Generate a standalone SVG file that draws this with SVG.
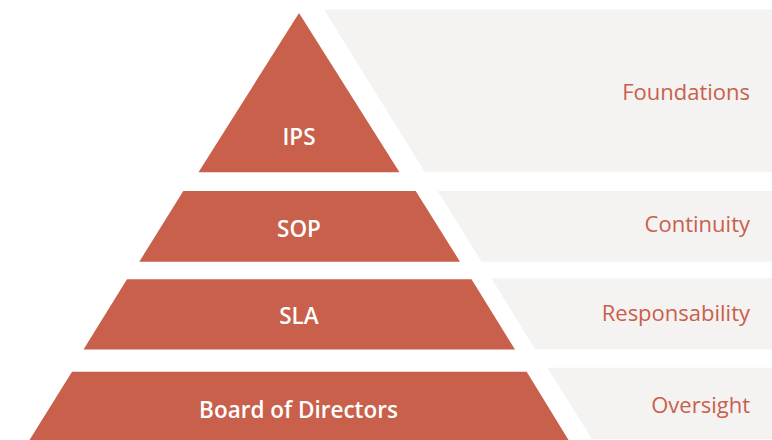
<svg xmlns="http://www.w3.org/2000/svg" width="772" height="440" viewBox="0 0 772 440">
<style>
.tier{fill:#C9604C}
.band{fill:#F4F3F1}
.lbl{font-family:"Open Sans","Noto Sans",sans-serif;font-size:22.5px;font-weight:600;fill:#FFFFFF;text-anchor:middle}
.cap{font-family:"Open Sans","Noto Sans",sans-serif;font-size:22px;fill:#C9604C;text-anchor:end}
</style>
<rect width="772" height="440" fill="#FFFFFF"/>
<g id="band-foundations">
<polygon class="band" points="324,9.5 772,9.5 772,172.3 425,172.3"/>
<text class="cap" x="750" y="100">Foundations</text>
</g>
<g id="band-continuity">
<polygon class="band" points="437.7,191 772,191 772,261.7 481.5,261.7"/>
<text class="cap" x="750" y="231.7">Continuity</text>
</g>
<g id="band-responsability">
<polygon class="band" points="491.5,278.3 772,278.3 772,349.3 535,349.3"/>
<text class="cap" x="750" y="321">Responsability</text>
</g>
<g id="band-oversight">
<polygon class="band" points="547.3,367.7 772,367.7 772,439 592,439"/>
<text class="cap" x="750" y="413.3">Oversight</text>
</g>
<g id="tier-ips">
<polygon class="tier" points="299,13 399.5,172.3 198.5,172.3"/>
<text class="lbl" x="299" y="145">IPS</text>
</g>
<g id="tier-sop">
<polygon class="tier" points="183.3,191 415.7,191 460,261.7 139.3,261.7"/>
<text class="lbl" x="299" y="236.7">SOP</text>
</g>
<g id="tier-sla">
<polygon class="tier" points="127,279.3 471.5,279.3 515,349.5 83.5,349.5"/>
<text class="lbl" x="299" y="324">SLA</text>
</g>
<g id="tier-board">
<polygon class="tier" points="72,371.7 526.7,371.7 568.5,440 29.5,440"/>
<text class="lbl" x="298.5" y="418.3">Board of Directors</text>
</g>
<g id="connectors"/>
</svg>
